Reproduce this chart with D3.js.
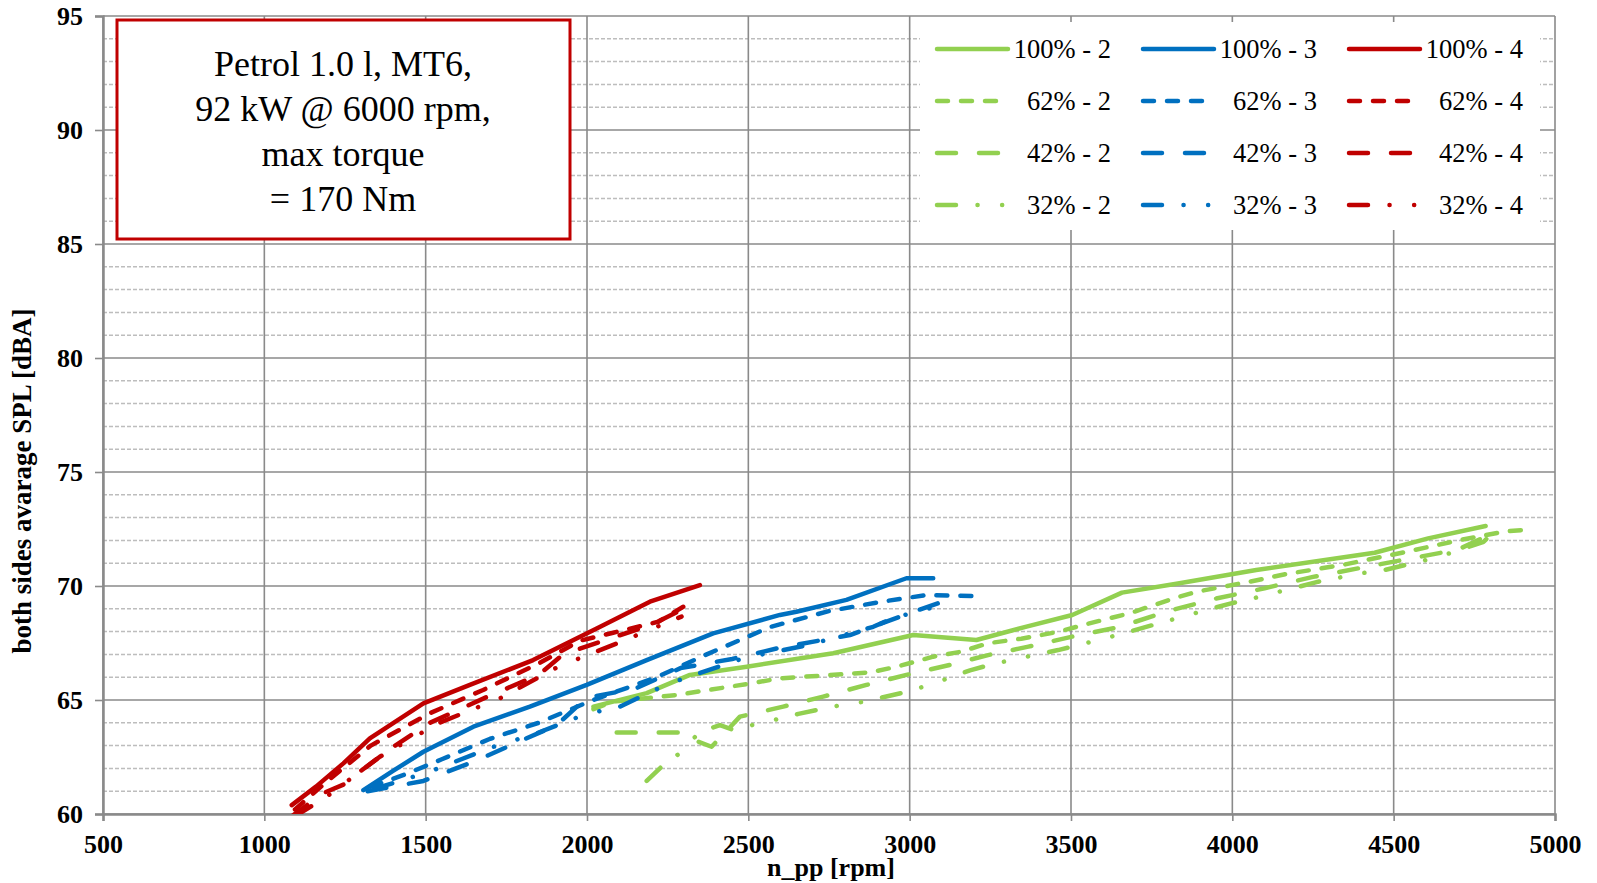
<!DOCTYPE html>
<html>
<head>
<meta charset="utf-8">
<script src="https://cdn.jsdelivr.net/npm/d3@7"></script>
<style>
  body { margin: 0; background: #fff; }
  svg text { font-family: "Liberation Serif", "Times New Roman", serif; }
</style>
</head>
<body>
<svg id="chart"></svg>
<script>
// x ticks / y ticks
const xTicks = [500, 1000, 1500, 2000, 2500, 3000, 3500, 4000, 4500, 5000];
const yTicks = [60, 65, 70, 75, 80, 85, 90, 95];

// [rpm, dBA]
const g100 = [[2020,64.71],[2185,65.3],[2319,66.1],[2495,66.46],[2763,67.05],[3011,67.85],[3207,67.63],[3362,68.22],[3504,68.73],[3658,69.71],[3836,70.12],[4074,70.7],[4441,71.46],[4607,72.09],[4785,72.63]];
const b100 = [[1307,61.05],[1400,61.9],[1493,62.73],[1648,63.83],[1823,64.71],[1999,65.66],[2185,66.75],[2391,67.92],[2598,68.73],[2649,68.87],[2804,69.39],[2990,70.34],[3073,70.34]];
const r100 = [[1085,60.39],[1160,61.2],[1245,62.22],[1327,63.32],[1493,64.85],[1637,65.66],[1833,66.75],[2030,68.14],[2195,69.31],[2350,70.04]];

const g62 = [[2020,64.6],[2081,64.93],[2278,65.22],[2495,65.7],[2598,65.95],[2877,66.21],[2960,66.46],[3073,66.9],[3160,67.12],[3243,67.49],[3346,67.69],[3464,68.0],[3537,68.29],[3681,68.8],[3819,69.46],[3890,69.75],[4054,70.19],[4165,70.52],[4340,70.92],[4553,71.54],[4700,72.0],[4847,72.4],[4905,72.46]];
const b62 = [[1330,61.2],[1430,61.7],[1550,62.4],[1700,63.3],[1850,64.0],[2019,65.0],[2216,66.0],[2371,67.0],[2567,68.2],[2750,68.9],[2908,69.3],[3050,69.6],[3207,69.56]];
const r62 = [[1095,60.2],[1200,61.5],[1330,63.0],[1513,64.42],[1678,65.44],[1850,66.6],[1978,67.6],[2081,67.95],[2221,68.43],[2324,69.31]];

const g42 = [[2092,63.57],[2283,63.57],[2340,63.2],[2386,62.95],[2474,64.27],[2608,64.71],[2732,65.15],[2866,65.66],[2990,66.1],[3125,66.54],[3243,66.97],[3368,67.34],[3504,67.78],[3650,68.2],[3800,68.9],[3950,69.45],[4100,69.9],[4250,70.4],[4400,70.8],[4550,71.2],[4700,71.6],[4790,72.2]];
const b42 = [[1320,61.0],[1493,61.45],[1650,62.3],[1813,63.32],[1906,63.9],[1999,65.1],[2150,65.5],[2290,66.4],[2450,66.8],[2600,67.3],[2815,67.85],[2960,68.6],[3011,68.87],[3100,69.3]];
const r42 = [[1085,59.9],[1180,60.9],[1255,61.35],[1296,61.86],[1400,62.95],[1513,64.0],[1700,65.2],[1850,66.1],[1926,67.0],[2050,67.6],[2200,68.3],[2300,69.0]];

const g32 = [[2185,61.45],[2240,62.2],[2283,62.62],[2350,63.6],[2412,63.9],[2452,63.7],[2587,64.15],[2655,64.39],[2794,64.8],[2861,64.93],[2990,65.36],[3061,65.66],[3187,66.3],[3259,66.58],[3386,66.97],[3460,67.19],[3593,67.66],[3662,67.92],[3789,68.43],[3864,68.73],[3996,69.24],[4065,69.46],[4198,69.94],[4267,70.19],[4400,70.56],[4471,70.7],[4601,71.14],[4672,71.43],[4779,71.94],[4790,72.1]];
const b32 = [[1340,61.1],[1513,61.86],[1700,62.9],[1844,63.54],[1990,64.35],[2102,64.71],[2250,65.7],[2484,66.83],[2686,67.41],[2887,68.21],[2950,68.6],[3083,69.1]];
const r32 = [[1095,59.9],[1193,60.76],[1358,62.51],[1539,63.98],[1730,65.07],[1911,66.46],[2107,67.56],[2293,68.66]];

const infoLines = ["Petrol 1.0 l, MT6,", "92 kW @ 6000 rpm,", "max torque", "= 170 Nm"];

const colors = { "2": "#92D050", "3": "#0070C0", "4": "#C00000" };
const dashes = {
  "100%": null,
  "62%": "11 13",
  "42%": "19 23",
  "32%": "19 21.5 0.1 24.5 0.1 21.5"
};

const series = [
  { name: "100% - 2", load: "100%", gear: "2", data: g100 },
  { name: "100% - 3", load: "100%", gear: "3", data: b100 },
  { name: "100% - 4", load: "100%", gear: "4", data: r100 },
  { name: "62% - 2", load: "62%", gear: "2", data: g62 },
  { name: "62% - 3", load: "62%", gear: "3", data: b62 },
  { name: "62% - 4", load: "62%", gear: "4", data: r62 },
  { name: "42% - 2", load: "42%", gear: "2", data: g42 },
  { name: "42% - 3", load: "42%", gear: "3", data: b42 },
  { name: "42% - 4", load: "42%", gear: "4", data: r42 },
  { name: "32% - 2", load: "32%", gear: "2", data: g32 },
  { name: "32% - 3", load: "32%", gear: "3", data: b32 },
  { name: "32% - 4", load: "32%", gear: "4", data: r32 }
];

const width = 1597, height = 883;
const margin = { top: 16, right: 42, bottom: 69, left: 103 };

const svg = d3.select("#chart").attr("width", width).attr("height", height);

const x = d3.scaleLinear().domain([500, 5000]).range([margin.left, width - margin.right]);
const y = d3.scaleLinear().domain([60, 95]).range([height - margin.bottom, margin.top]);

svg.append("defs").append("clipPath").attr("id", "plot-clip")
  .append("rect")
  .attr("x", margin.left).attr("y", margin.top)
  .attr("width", x(5000) - x(500)).attr("height", y(60) - y(95));

// minor gridlines (every 1 dB)
const minor = d3.range(61, 95).filter((v) => v % 5 !== 0);
svg.append("g")
  .selectAll("line")
  .data(minor)
  .join("line")
  .attr("x1", x(500)).attr("x2", x(5000))
  .attr("y1", (d) => y(d)).attr("y2", (d) => y(d))
  .attr("stroke", "#bdbdbd")
  .attr("stroke-width", 1.5)
  .attr("stroke-dasharray", "4 2");

// major gridlines
const grid = svg.append("g").attr("stroke", "#8a8a8a").attr("stroke-width", 1.6);
grid.selectAll(".gy")
  .data(yTicks)
  .join("line")
  .attr("x1", x(500)).attr("x2", x(5000))
  .attr("y1", (d) => y(d)).attr("y2", (d) => y(d));
grid.selectAll(".gx")
  .data(xTicks)
  .join("line")
  .attr("y1", y(60)).attr("y2", y(95))
  .attr("x1", (d) => x(d)).attr("x2", (d) => x(d));

// axes with outward ticks
const xAxis = svg.append("g")
  .attr("transform", `translate(0,${y(60)})`)
  .call(d3.axisBottom(x).tickValues(xTicks).tickSize(7).tickPadding(14).tickFormat(d3.format("d")));
const yAxis = svg.append("g")
  .attr("transform", `translate(${x(500)},0)`)
  .call(d3.axisLeft(y).tickValues(yTicks).tickSize(8).tickPadding(12).tickFormat(d3.format("d")));

[xAxis, yAxis].forEach((a) => {
  a.select(".domain").attr("stroke", "#8a8a8a").attr("stroke-width", 2.5);
  a.selectAll(".tick line").attr("stroke", "#8a8a8a").attr("stroke-width", 1.6);
  a.selectAll("text")
    .attr("fill", "#000")
    .style("font-family", '"Liberation Serif", "Times New Roman", serif')
    .style("font-size", "26px")
    .style("font-weight", "bold");
});

// axis titles
svg.append("text")
  .attr("x", (x(500) + x(5000)) / 2 + 2)
  .attr("y", 876)
  .attr("text-anchor", "middle")
  .style("font-size", "26px")
  .style("font-weight", "bold")
  .text("n_pp [rpm]");

svg.append("text")
  .attr("transform", `translate(31,${(y(60) + y(95)) / 2 + 66}) rotate(-90)`)
  .attr("text-anchor", "middle")
  .style("font-size", "27px")
  .style("font-weight", "bold")
  .text("both sides avarage SPL [dBA]");

// curves
const line = d3.line().x((d) => x(d[0])).y((d) => y(d[1]));
svg.append("g")
  .attr("clip-path", "url(#plot-clip)")
  .selectAll("path")
  .data(series)
  .join("path")
  .attr("d", (d) => line(d.data))
  .attr("fill", "none")
  .attr("stroke", (d) => colors[d.gear])
  .attr("stroke-width", 4.5)
  .attr("stroke-linecap", "round")
  .attr("stroke-linejoin", "round")
  .attr("stroke-dasharray", (d) => dashes[d.load]);

// legend
const legend = svg.append("g");
legend.append("rect")
  .attr("x", 920).attr("y", 22)
  .attr("width", 620).attr("height", 208)
  .attr("fill", "#fff");

const item = legend.selectAll(".item")
  .data(series)
  .join("g")
  .attr("transform", (d, i) => `translate(${937 + (i % 3) * 206},${49 + Math.floor(i / 3) * 52})`);

item.append("line")
  .attr("x1", 0).attr("x2", 71)
  .attr("stroke", (d) => colors[d.gear])
  .attr("stroke-width", 4.5)
  .attr("stroke-linecap", "round")
  .attr("stroke-dasharray", (d) => dashes[d.load]);

item.append("text")
  .attr("x", 174)
  .attr("y", 9)
  .attr("text-anchor", "end")
  .style("font-size", "26.5px")
  .text((d) => d.name);

// info box
const box = svg.append("g");
box.append("rect")
  .attr("x", 117).attr("y", 20)
  .attr("width", 453).attr("height", 219)
  .attr("fill", "#fff")
  .attr("stroke", "#C00000")
  .attr("stroke-width", 3);

box.selectAll("text")
  .data(infoLines)
  .join("text")
  .attr("x", 343)
  .attr("y", (d, i) => 76 + i * 45)
  .attr("text-anchor", "middle")
  .style("font-size", "36px")
  .text((d) => d);
</script>
</body>
</html>
